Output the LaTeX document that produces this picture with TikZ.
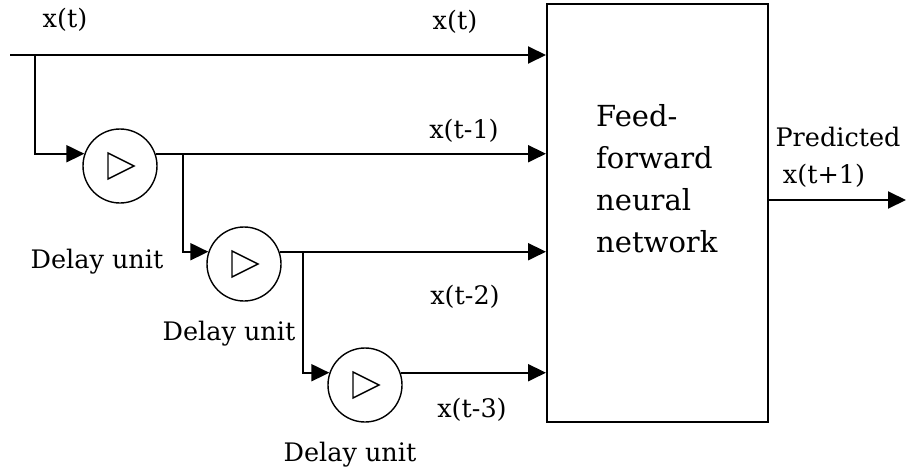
\documentclass[tikz,border=0pt]{standalone}
\usepackage{fontspec}
\setmainfont{DejaVu Serif}
\usetikzlibrary{arrows.meta,calc}
\begin{document}
\begin{tikzpicture}[x=1pt,y=-1pt,
  wire/.style={line width=2pt},
  arr/.style={wire,-{Triangle[length=18pt,width=17pt]}},
  delay/.style={circle,draw,line width=1.4pt,minimum size=74pt,inner sep=0pt},
  lbl/.style={font=\fontsize{25.5}{30}\selectfont,inner sep=0pt},
  nnbox/.style={draw,line width=2pt,minimum width=221pt,minimum height=418pt,inner sep=0pt}]
\useasboundingbox (0,0) rectangle (906,474);

% network block
\node[nnbox] (nn) at (657.5,213) {};
\node[lbl,font=\fontsize{29}{42}\selectfont,align=left,anchor=north west] (nnt) at (596,104)
  {Feed-\\forward\\neural\\network};

% delay units
\node[delay] (d1) at (120,166) {};
\node[delay] (d2) at (244,264) {};
\node[delay] (d3) at (365,385) {};
\foreach \d in {d1,d2,d3}
  \draw[line width=1.4pt,line join=miter] ($(\d)+(-12,-13)$) -- ($(\d)+(14,0)$) -- ($(\d)+(-12,13)$) -- cycle;

% input and taps
\coordinate (in) at (10,55);
\coordinate (b0) at (35,55);
\coordinate (b1) at (183,154);
\coordinate (b2) at (303,252);
\coordinate (out) at (906,200);

\draw[arr] (in) -- (in -| nn.west);
\draw[arr] (b0) |- (d1.161);
\draw[arr] (d1.19) -- (d1.19 -| nn.west);
\draw[arr] (b1) |- (d2.161);
\draw[arr] (d2.19) -- (d2.19 -| nn.west);
\draw[arr] (b2) |- (d3.161);
\draw[arr] (d3.19) -- (d3.19 -| nn.west);
\draw[arr] (out -| nn.east) -- (out);

% labels
\node[lbl] (lx0) at (65,20) {x(t)};
\node[lbl] (lx1) at (455,22) {x(t)};
\node[lbl] (lx2) at (464,131) {x(t-1)};
\node[lbl] (lx3) at (465,297) {x(t-2)};
\node[lbl] (lx4) at (472,410) {x(t-3)};
\node[lbl] (ld1) at (97,262) {Delay unit};
\node[lbl] (ld2) at (229,334) {Delay unit};
\node[lbl] (ld3) at (350,455) {Delay unit};
\node[lbl] (lp) at (838,137) {Predicted};
\node[lbl] (lpx) at (824,176) {x(t+1)};
\end{tikzpicture}
\end{document}
